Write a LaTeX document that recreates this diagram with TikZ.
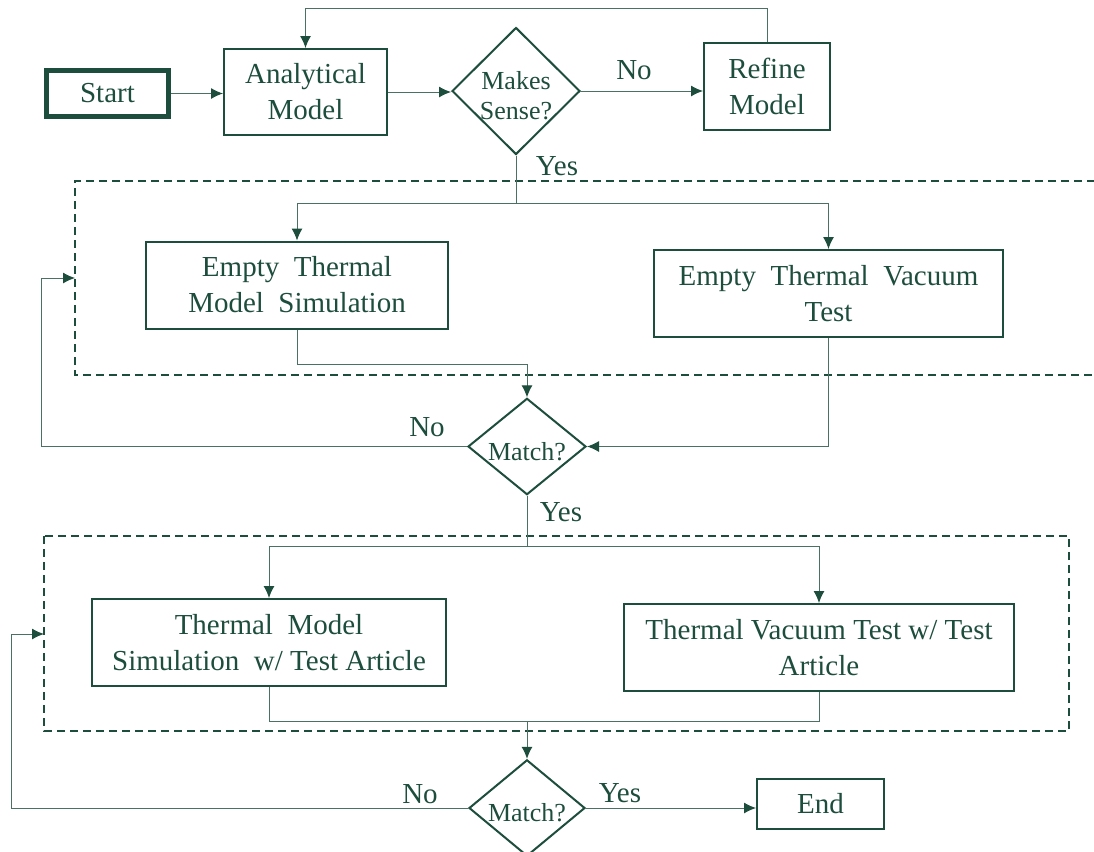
\documentclass[tikz,border=0pt]{standalone}
\usepackage{amsmath}
\usepackage{fontspec}
\setmainfont{Liberation Serif}
\usetikzlibrary{shapes.geometric,arrows.meta}
\definecolor{fgreen}{HTML}{1D4D3D}
\newcommand{\dropped}[1]{\raisebox{-2.5pt}[\height][\depth]{#1}}
\tikzset{
  box/.style={draw=fgreen,line width=1pt,text=fgreen,align=center,inner sep=0pt,font=\fontsize{14.5}{18}\selectfont},
  decide/.style={draw=fgreen,line width=1pt,text=fgreen,diamond,align=center,inner sep=0pt,font=\fontsize{13}{15}\selectfont},
  flow/.style={draw=fgreen!80,line width=0.5pt,-{Latex[length=6pt,width=5.5pt,color=fgreen]}},
  link/.style={draw=fgreen!80,line width=0.5pt},
  groupline/.style={draw=fgreen,line width=1pt,dash pattern=on 4pt off 2.5pt},
  lbl/.style={text=fgreen,inner sep=1pt,font=\fontsize{14.5}{18}\selectfont}
}

\begin{document}
\begin{tikzpicture}[x=0.5pt,y=-0.5pt]
\useasboundingbox (0,0) rectangle (1094,852);

\draw[groupline] (1095,181) -- (75,181) -- (75,375) -- (1095,375);
\draw[groupline] (44,536) rectangle (1069,731);
\coordinate (grpa) at (75,278);
\coordinate (grpb) at (44,634);

\node[box,line width=2.5pt,minimum width=61pt,minimum height=23pt] (start) at (107.5,93.5) {Start};
\node[box,minimum width=81.5pt,minimum height=43pt] (anal) at (305.5,92) {Analytical\\Model};
\node[decide,minimum width=64pt,minimum height=63.5pt] (sense) at (516,91) {\dropped{Makes}\\\dropped{Sense?}};
\node[box,minimum width=63pt,minimum height=43.5pt] (refine) at (767,86) {Refine\\Model};

\node[box,minimum width=151pt,minimum height=43.5pt] (ets) at (297,285) {Empty\ \ Thermal\\Model\ \ Simulation};
\node[box,minimum width=174.5pt,minimum height=43.5pt] (etv) at (828.5,293.5) {Empty\ \ Thermal\ \ Vacuum\\Test};
\node[decide,minimum width=59pt,minimum height=46.5pt] (match1) at (527,446.5) {\dropped{Match?}};

\node[box,minimum width=177pt,minimum height=43.5pt] (tms) at (269,642.5) {Thermal\ \ Model\\Simulation\ \ w/ Test Article};
\node[box,minimum width=195pt,minimum height=43.5pt] (tvt) at (819,647.5) {Thermal Vacuum Test w/ Test\\Article};
\node[decide,minimum width=58pt,minimum height=46pt] (match2) at (527,808) {\dropped{Match?}};
\node[box,minimum width=63.5pt,minimum height=25pt] (endbox) at (820.5,804) {End};

\node[lbl] (nosense) at (634,70) {No};
\node[lbl] (yessense) at (557,166) {Yes};
\node[lbl] (noma) at (427,427) {No};
\node[lbl] (yesma) at (561,512) {Yes};
\node[lbl] (nomb) at (420,794) {No};
\node[lbl] (yesmb) at (620,793) {Yes};

\coordinate (loop) at (0,8);
\coordinate (splita) at (516,203);
\coordinate (joina) at (527,364);
\coordinate (splitb) at (527,546);
\coordinate (joinb) at (527,721);

\draw[flow] (start.east) -- (start.east -| anal.west);
\draw[flow] (anal.east) -- (anal.east -| sense.west);
\draw[flow] (sense.east) -- (sense.east -| refine.west);
\draw[flow] (refine.north) -- (refine.north |- loop) -| (anal.north);

\draw[link] (sense.south) -- (splita);
\draw[flow] (splita) -| (ets.north);
\draw[flow] (splita) -| (etv.north);
\draw[flow] (ets.south) |- (joina) -- (match1.north);
\draw[flow] (etv.south) |- (match1.east);
\draw[flow] (match1.west) -- ++(-426,0) |- (grpa);

\draw[link] (match1.south) -- (splitb);
\draw[flow] (splitb) -| (tms.north);
\draw[flow] (splitb) -| (tvt.north);
\draw[link] (tvt.south) |- (joinb);
\draw[flow] (tms.south) |- (joinb) -- (match2.north);
\draw[flow] (match2.west) -- ++(-457,0) |- (grpb);
\draw[flow] (match2.east) -- (match2.east -| endbox.west);
\end{tikzpicture}
\end{document}
